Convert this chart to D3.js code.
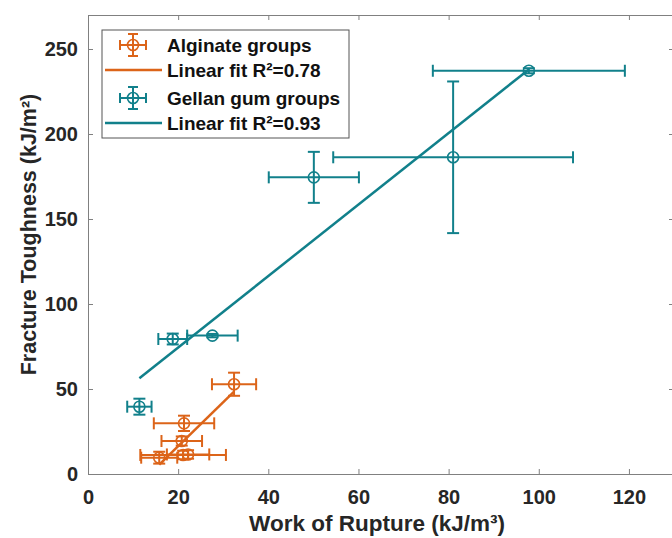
<!DOCTYPE html>
<html>
<head>
<meta charset="utf-8">
<script src="https://cdn.jsdelivr.net/npm/d3@7"></script>
<style>
  body { margin: 0; background: #fff; }
  svg { display: block; font-family: "Liberation Sans", Arial, sans-serif; }
</style>
</head>
<body>
<div id="chart"></div>
<script>
// Alginate groups
const algX    = [32.4, 21.3, 20.8, 15.8, 21.1, 22.2];
const algY    = [52.8, 29.8, 19.4, 9.6, 11.2, 11.5];
const algXErr = [4.9, 6.7, 4.5, 4.0, 9.5, 4.7];
const algYErr = [6.8, 4.5, 2.7, 3.5, 2.5, 2.5];
const algFitX = [15.8, 32.4];
const algFitY = [5.5, 48.5];

// Gellan gum groups
const gelX    = [97.8, 81.0, 50.1, 27.6, 18.8, 11.4];
const gelY    = [237.2, 186.3, 174.5, 81.4, 79.4, 39.6];
const gelXErr = [21.3, 26.6, 10.0, 5.6, 3.2, 2.7];
const gelYErr = [1.5, 44.6, 15.0, 1.0, 3.2, 4.7];
const gelFitX = [11.4, 97.8];
const gelFitY = [56.3, 238.0];

const xTicks = [0, 20, 40, 60, 80, 100, 120];
const yTicks = [0, 50, 100, 150, 200, 250];
const legendLabels = ["Alginate groups", "Linear fit R\u00b2=0.78", "Gellan gum groups", "Linear fit R\u00b2=0.93"];

const orange = "#dc6419";
const teal = "#11808b";
const ink = "#262626";

const W = 672, H = 538;
const m = { left: 88, right: -2, top: 15, bottom: 64 };

const svg = d3.select("#chart").append("svg")
    .attr("width", W)
    .attr("height", H);

const x = d3.scaleLinear().domain([0, 130]).range([m.left, W - m.right]);
const y = d3.scaleLinear().domain([0, 270]).range([H - m.bottom, m.top]);

// axes (ticks inside, box all round)
const axisColor = "#808080";
svg.append("g")
    .attr("transform", `translate(0,${y(0)})`)
    .call(d3.axisBottom(x).tickValues(xTicks).tickSizeInner(-5).tickSizeOuter(0).tickPadding(16));
svg.append("g")
    .attr("transform", `translate(${x(0)},0)`)
    .call(d3.axisLeft(y).tickValues(yTicks).tickSizeInner(-5).tickSizeOuter(0).tickPadding(10));
svg.append("g")
    .attr("transform", `translate(0,${y(270)})`)
    .call(d3.axisTop(x).tickValues(xTicks).tickSizeInner(-5).tickSizeOuter(0).tickFormat(""));
svg.append("g")
    .attr("transform", `translate(${x(130)},0)`)
    .call(d3.axisRight(y).tickValues(yTicks).tickSizeInner(-5).tickSizeOuter(0).tickFormat(""));

svg.selectAll(".domain").attr("stroke", axisColor);
svg.selectAll(".tick line").attr("stroke", axisColor);
svg.selectAll(".tick text")
    .attr("fill", ink)
    .style("font-size", "20px")
    .style("font-weight", "bold");

svg.append("text")
    .attr("x", (x(0) + x(130)) / 2 - 4)
    .attr("y", 531)
    .attr("text-anchor", "middle")
    .attr("fill", ink)
    .style("font-size", "22.5px")
    .style("font-weight", "bold")
    .text("Work of Rupture (kJ/m\u00b3)");

svg.append("text")
    .attr("transform", `translate(36,${(y(0) + y(270)) / 2 - 10}) rotate(-90)`)
    .attr("text-anchor", "middle")
    .attr("fill", ink)
    .style("font-size", "21.5px")
    .style("font-weight", "bold")
    .text("Fracture Toughness (kJ/m\u00b2)");

// fit lines
const line = d3.line().x(d => x(d[0])).y(d => y(d[1]));
function drawFit(fx, fy, color) {
    svg.append("path")
        .datum(fx.map((v, i) => [v, fy[i]]))
        .attr("d", line)
        .attr("fill", "none")
        .attr("stroke", color)
        .attr("stroke-width", 2.5);
}

// error bar groups
function drawErrorBars(xs, ys, xe, ye, color) {
    const pts = xs.map((v, i) => ({ x: v, y: ys[i], xe: xe[i], ye: ye[i] }));
    const cap = 6;
    const g = svg.append("g")
        .attr("stroke", color)
        .attr("stroke-width", 2)
        .attr("fill", "none");
    const e = g.selectAll("g").data(pts).enter().append("g");
    e.append("line")
        .attr("x1", d => x(d.x - d.xe)).attr("x2", d => x(d.x + d.xe))
        .attr("y1", d => y(d.y)).attr("y2", d => y(d.y));
    e.append("line")
        .attr("x1", d => x(d.x - d.xe)).attr("x2", d => x(d.x - d.xe))
        .attr("y1", d => y(d.y) - cap).attr("y2", d => y(d.y) + cap);
    e.append("line")
        .attr("x1", d => x(d.x + d.xe)).attr("x2", d => x(d.x + d.xe))
        .attr("y1", d => y(d.y) - cap).attr("y2", d => y(d.y) + cap);
    e.append("line")
        .attr("x1", d => x(d.x)).attr("x2", d => x(d.x))
        .attr("y1", d => y(d.y - d.ye)).attr("y2", d => y(d.y + d.ye));
    e.append("line")
        .attr("x1", d => x(d.x) - cap).attr("x2", d => x(d.x) + cap)
        .attr("y1", d => y(d.y + d.ye)).attr("y2", d => y(d.y + d.ye));
    e.append("line")
        .attr("x1", d => x(d.x) - cap).attr("x2", d => x(d.x) + cap)
        .attr("y1", d => y(d.y - d.ye)).attr("y2", d => y(d.y - d.ye));
    e.append("circle")
        .attr("cx", d => x(d.x)).attr("cy", d => y(d.y))
        .attr("r", 5.5)
        .attr("stroke-width", 1.6);
}

drawErrorBars(gelX, gelY, gelXErr, gelYErr, teal);
drawFit(gelFitX, gelFitY, teal);
drawErrorBars(algX, algY, algXErr, algYErr, orange);
drawFit(algFitX, algFitY, orange);

// legend
const leg = svg.append("g").attr("transform", "translate(102,30)");
leg.append("rect")
    .attr("width", 247).attr("height", 108)
    .attr("fill", "#fff")
    .attr("stroke", "#555")
    .attr("stroke-width", 1);

const rows = [
    { label: legendLabels[0], color: orange, kind: "err" },
    { label: legendLabels[1], color: orange, kind: "line" },
    { label: legendLabels[2], color: teal, kind: "err" },
    { label: legendLabels[3], color: teal, kind: "line" }
];
const rowY = [15, 40, 68, 93];
rows.forEach((r, i) => {
    const g = leg.append("g").attr("transform", `translate(0,${rowY[i]})`);
    if (r.kind === "line") {
        g.append("line").attr("x1", 3).attr("x2", 60).attr("y1", 0).attr("y2", 0)
            .attr("stroke", r.color).attr("stroke-width", 2.5);
    } else {
        const cx = 31;
        const s = g.append("g").attr("stroke", r.color).attr("stroke-width", 2).attr("fill", "none");
        s.append("line").attr("x1", cx - 13).attr("x2", cx + 13).attr("y1", 0).attr("y2", 0);
        s.append("line").attr("x1", cx - 13).attr("x2", cx - 13).attr("y1", -5).attr("y2", 5);
        s.append("line").attr("x1", cx + 13).attr("x2", cx + 13).attr("y1", -5).attr("y2", 5);
        s.append("line").attr("x1", cx).attr("x2", cx).attr("y1", -11).attr("y2", 11);
        s.append("line").attr("x1", cx - 5).attr("x2", cx + 5).attr("y1", -11).attr("y2", -11);
        s.append("line").attr("x1", cx - 5).attr("x2", cx + 5).attr("y1", 11).attr("y2", 11);
        s.append("circle").attr("cx", cx).attr("cy", 0).attr("r", 5.5).attr("stroke-width", 1.6);
    }
    g.append("text")
        .attr("x", 65).attr("y", 6.5)
        .attr("fill", "#111")
        .style("font-size", "19px")
        .style("font-weight", "bold")
        .text(r.label);
});
</script>
</body>
</html>
